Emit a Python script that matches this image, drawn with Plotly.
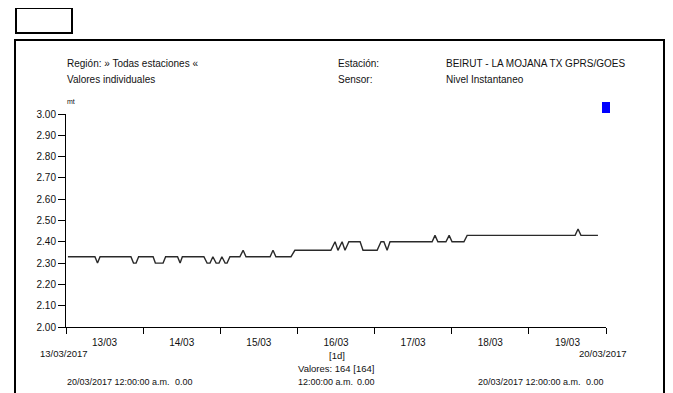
import pandas as pd
import plotly.graph_objects as go

# --- data (hours after 13/03/2017 00:00, level in mt)
START = pd.Timestamp("2017-03-13 00:00")
END = pd.Timestamp("2017-03-20 00:00")

hours = [0.6, 9.0, 9.8, 10.6, 20.2, 21.0, 21.8, 22.6, 27.1, 27.8, 30.2, 31.0,
         34.7, 35.5, 36.2, 42.9, 43.9, 44.8, 45.7, 46.7, 47.6, 48.5, 49.5,
         50.1, 51.0, 54.1, 55.1, 56.0, 63.5, 64.4, 65.3, 70.0, 71.2, 82.4,
         83.7, 84.6, 85.9, 86.8, 88.0, 91.5, 92.4, 96.8, 98.0, 98.9, 99.9,
         100.8, 113.9, 114.8, 115.7, 118.2, 119.2, 120.1, 123.8, 124.8,
         158.4, 159.3, 160.2, 165.5]
level = [2.33, 2.33, 2.30, 2.33, 2.33, 2.30, 2.30, 2.33, 2.33, 2.30, 2.30, 2.33,
         2.33, 2.30, 2.33, 2.33, 2.30, 2.30, 2.33, 2.30, 2.30, 2.33, 2.30,
         2.30, 2.33, 2.33, 2.36, 2.33, 2.33, 2.36, 2.33, 2.33, 2.36, 2.36,
         2.40, 2.36, 2.40, 2.36, 2.40, 2.40, 2.36, 2.36, 2.40, 2.40, 2.36,
         2.40, 2.40, 2.43, 2.40, 2.40, 2.43, 2.40, 2.40, 2.43,
         2.43, 2.46, 2.43, 2.43]

region_txt = "Región: » Todas estaciones «"
mode_txt = "Valores individuales"
station_txt = "BEIRUT - LA MOJANA TX GPRS/GOES"
sensor_txt = "Nivel Instantaneo"
count_txt = "Valores: 164 [164]"
interval_txt = "[1d]"
unit_txt = "mt"

times = START + pd.to_timedelta(hours, unit="h")

# the page body adds an 8px margin, so the figure starts at (8, 8)
OFF = 8
W, H = 673 - OFF, 393 - OFF
L, R, T, B = 66, 606, 114, 327  # plot area in window pixels


def px(x):
    return (x - L) / (R - L)


def py(y):
    return (B - y) / (B - T)


FONT = "Liberation Sans, Arial, sans-serif"

fig = go.Figure()
fig.add_trace(go.Scatter(
    x=times, y=level, mode="lines",
    line=dict(color="#2a2a2a", width=1.4),
    showlegend=False, hoverinfo="skip",
))

annotations = []


def txt(text, x, y, anchor="left", size=10):
    annotations.append(dict(
        text=text, x=px(x), y=py(y), xref="paper", yref="paper",
        xanchor=anchor, yanchor="middle", showarrow=False,
        font=dict(family=FONT, size=size, color="#111"),
    ))


# header
txt(region_txt, 65, 64)
txt(mode_txt, 65, 79)
txt("Estación:", 336, 64)
txt("Sensor:", 336, 79)
txt(station_txt, 444, 64)
txt(sensor_txt, 444, 79)
txt(unit_txt, 65, 101, size=7)

# footer
txt("13/03/2017", 64, 353, anchor="center", size=9.5)
txt("20/03/2017", 629, 353, anchor="right", size=9.5)
txt(interval_txt, 337, 355, anchor="center", size=9.5)
txt(count_txt, 336, 368, anchor="center", size=9.5)
txt("20/03/2017 12:00:00 a.m.", 65, 382, size=9)
txt("0.00", 195, 382, anchor="right", size=9)
txt("12:00:00 a.m.", 296, 382, size=9)
txt("0.00", 377, 382, anchor="right", size=9)
txt("20/03/2017 12:00:00 a.m.", 476, 382, size=9)
txt("0.00", 606, 382, anchor="right", size=9)

shapes = [
    # outer report frame
    dict(type="path", xref="paper", yref="paper",
         path=(f"M {px(15)} {py(400)} L {px(15)} {py(40)} "
               f"L {px(664)} {py(40)} L {px(664)} {py(400)}"),
         line=dict(color="black", width=2)),
    # thumbnail box
    dict(type="rect", xref="paper", yref="paper",
         x0=px(16), x1=px(72), y0=py(8), y1=py(33),
         line=dict(color="black", width=2)),
    # legend marker
    dict(type="rect", xref="paper", yref="paper",
         x0=px(602), x1=px(610), y0=py(102), y1=py(113),
         fillcolor="#0000ff", line=dict(color="#0000ff", width=0)),
]

fig.update_layout(
    width=W, height=H,
    margin=dict(l=L - OFF, r=W - (R - OFF), t=T - OFF, b=H - (B - OFF), pad=0),
    paper_bgcolor="white", plot_bgcolor="white",
    font=dict(family=FONT, size=10, color="#111"),
    annotations=annotations,
    shapes=shapes,
    xaxis=dict(
        type="date", range=[START, END],
        tick0=START, dtick=86400000, tickformat="%d/%m",
        ticklabelmode="period",
        showgrid=False, zeroline=False,
        showline=True, linecolor="black", linewidth=1,
        ticks="outside", ticklen=6, tickcolor="black", tickwidth=1,
        tickfont=dict(size=10),
    ),
    yaxis=dict(
        range=[2.0, 3.0], tick0=2.0, dtick=0.1, tickformat=".2f",
        showgrid=False, zeroline=False,
        showline=True, linecolor="black", linewidth=1,
        ticks="outside", ticklen=7, tickcolor="black", tickwidth=1,
        tickfont=dict(size=10),
    ),
)

fig.write_html("out.html", config=dict(displayModeBar=False))
